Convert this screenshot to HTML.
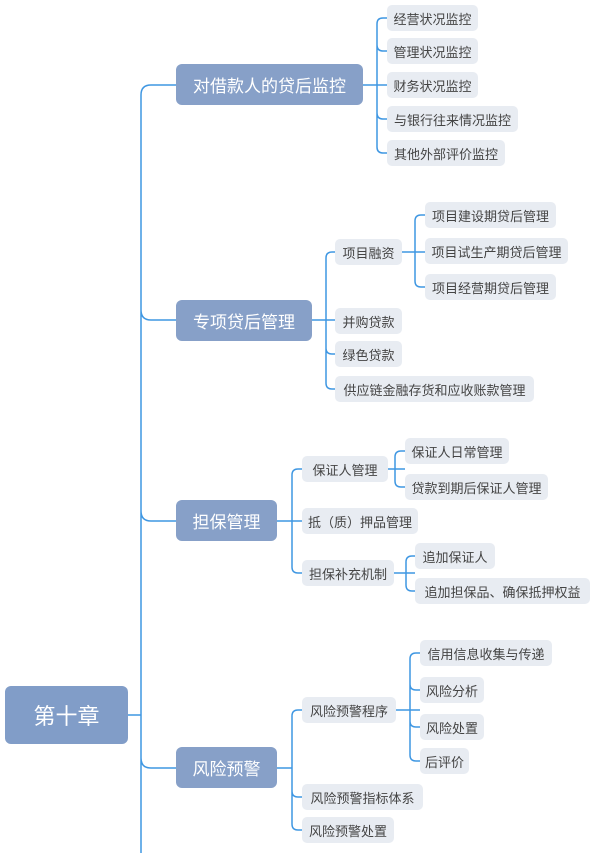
<!DOCTYPE html>
<html><head><meta charset="utf-8"><style>
body{margin:0;width:600px;height:853px;background:#fff;position:relative;overflow:hidden;font-family:"Liberation Sans","Noto Sans CJK SC",sans-serif}
.n{position:absolute;display:flex;align-items:center;justify-content:center;white-space:nowrap;box-sizing:border-box}
.r{background:#819dc8;color:#fff;font-size:22px;border-radius:6px}
.a{background:#87a0c8;color:#fff;font-size:17px;border-radius:6px;height:41px}
.b{background:#e8ecf2;color:#444;font-size:13px;border-radius:5px;height:26px}
svg{position:absolute;left:0;top:0}
</style></head><body>
<svg width="600" height="853" fill="none" stroke="#3f97e2" stroke-width="1.5">
<path d="M128,715H141M141,95V853M141,95Q141,85 151,85H176M141,310Q141,320 151,320H176M141,511Q141,521 151,521H176M141,758Q141,768 151,768H176"/>
<path d="M363,85H387M377,24V147M377,24Q377,18 383,18H387M377,45Q377,51 383,51H387M377,113Q377,119 383,119H387M377,147Q377,153 383,153H387"/>
<path d="M311,320H335M326,258V383M326,258Q326,252 332,252H335M326,348Q326,354 332,354H335M326,383Q326,389 332,389H335"/>
<path d="M402,252H425M415,221V281M415,221Q415,215 421,215H425M415,281Q415,287 421,287H425"/>
<path d="M277,521H302M292,475V567M292,475Q292,469 298,469H302M292,567Q292,573 298,573H302"/>
<path d="M388,469H405M395,457V481M395,457Q395,451 401,451H405M395,481Q395,487 401,487H405"/>
<path d="M394,573H415M406,562V585M406,562Q406,556 412,556H415M406,585Q406,591 412,591H415"/>
<path d="M277,768H292M292,716V824M292,716Q292,710 298,710H302M292,791Q292,797 298,797H302M292,824Q292,830 298,830H302"/>
<path d="M396,710H420M410,659V755M410,659Q410,653 416,653H420M410,684Q410,690 416,690H420M410,721Q410,727 416,727H420M410,755Q410,761 416,761H420"/>
</svg>
<div class="n r" style="left:5px;top:686px;width:123px;height:58px">第十章</div>
<div class="n a" style="left:176px;top:64px;width:187px">对借款人的贷后监控</div>
<div class="n a" style="left:176px;top:300px;width:136px">专项贷后管理</div>
<div class="n a" style="left:176px;top:500px;width:101px">担保管理</div>
<div class="n a" style="left:176px;top:747px;width:101px">风险预警</div>

<div class="n b" style="left:387px;top:5px;width:91px">经营状况监控</div>
<div class="n b" style="left:387px;top:38px;width:91px">管理状况监控</div>
<div class="n b" style="left:387px;top:72px;width:91px">财务状况监控</div>
<div class="n b" style="left:387px;top:106px;width:131px">与银行往来情况监控</div>
<div class="n b" style="left:387px;top:140px;width:118px">其他外部评价监控</div>

<div class="n b" style="left:335px;top:239px;width:67px">项目融资</div>
<div class="n b" style="left:335px;top:308px;width:67px">并购贷款</div>
<div class="n b" style="left:335px;top:341px;width:67px">绿色贷款</div>
<div class="n b" style="left:335px;top:376px;width:199px">供应链金融存货和应收账款管理</div>
<div class="n b" style="left:425px;top:202px;width:131px">项目建设期贷后管理</div>
<div class="n b" style="left:425px;top:238px;width:143px">项目试生产期贷后管理</div>
<div class="n b" style="left:425px;top:274px;width:131px">项目经营期贷后管理</div>

<div class="n b" style="left:302px;top:456px;width:86px">保证人管理</div>
<div class="n b" style="left:302px;top:508px;width:116px">抵（质）押品管理</div>
<div class="n b" style="left:302px;top:560px;width:92px">担保补充机制</div>
<div class="n b" style="left:405px;top:438px;width:104px">保证人日常管理</div>
<div class="n b" style="left:405px;top:474px;width:143px">贷款到期后保证人管理</div>
<div class="n b" style="left:415px;top:543px;width:80px">追加保证人</div>
<div class="n b" style="left:415px;top:578px;width:175px">追加担保品、确保抵押权益</div>

<div class="n b" style="left:302px;top:697px;width:94px">风险预警程序</div>
<div class="n b" style="left:302px;top:784px;width:121px">风险预警指标体系</div>
<div class="n b" style="left:302px;top:817px;width:92px">风险预警处置</div>
<div class="n b" style="left:420px;top:640px;width:132px">信用信息收集与传递</div>
<div class="n b" style="left:420px;top:677px;width:64px">风险分析</div>
<div class="n b" style="left:420px;top:714px;width:64px">风险处置</div>
<div class="n b" style="left:420px;top:748px;width:49px">后评价</div>
</body></html>
